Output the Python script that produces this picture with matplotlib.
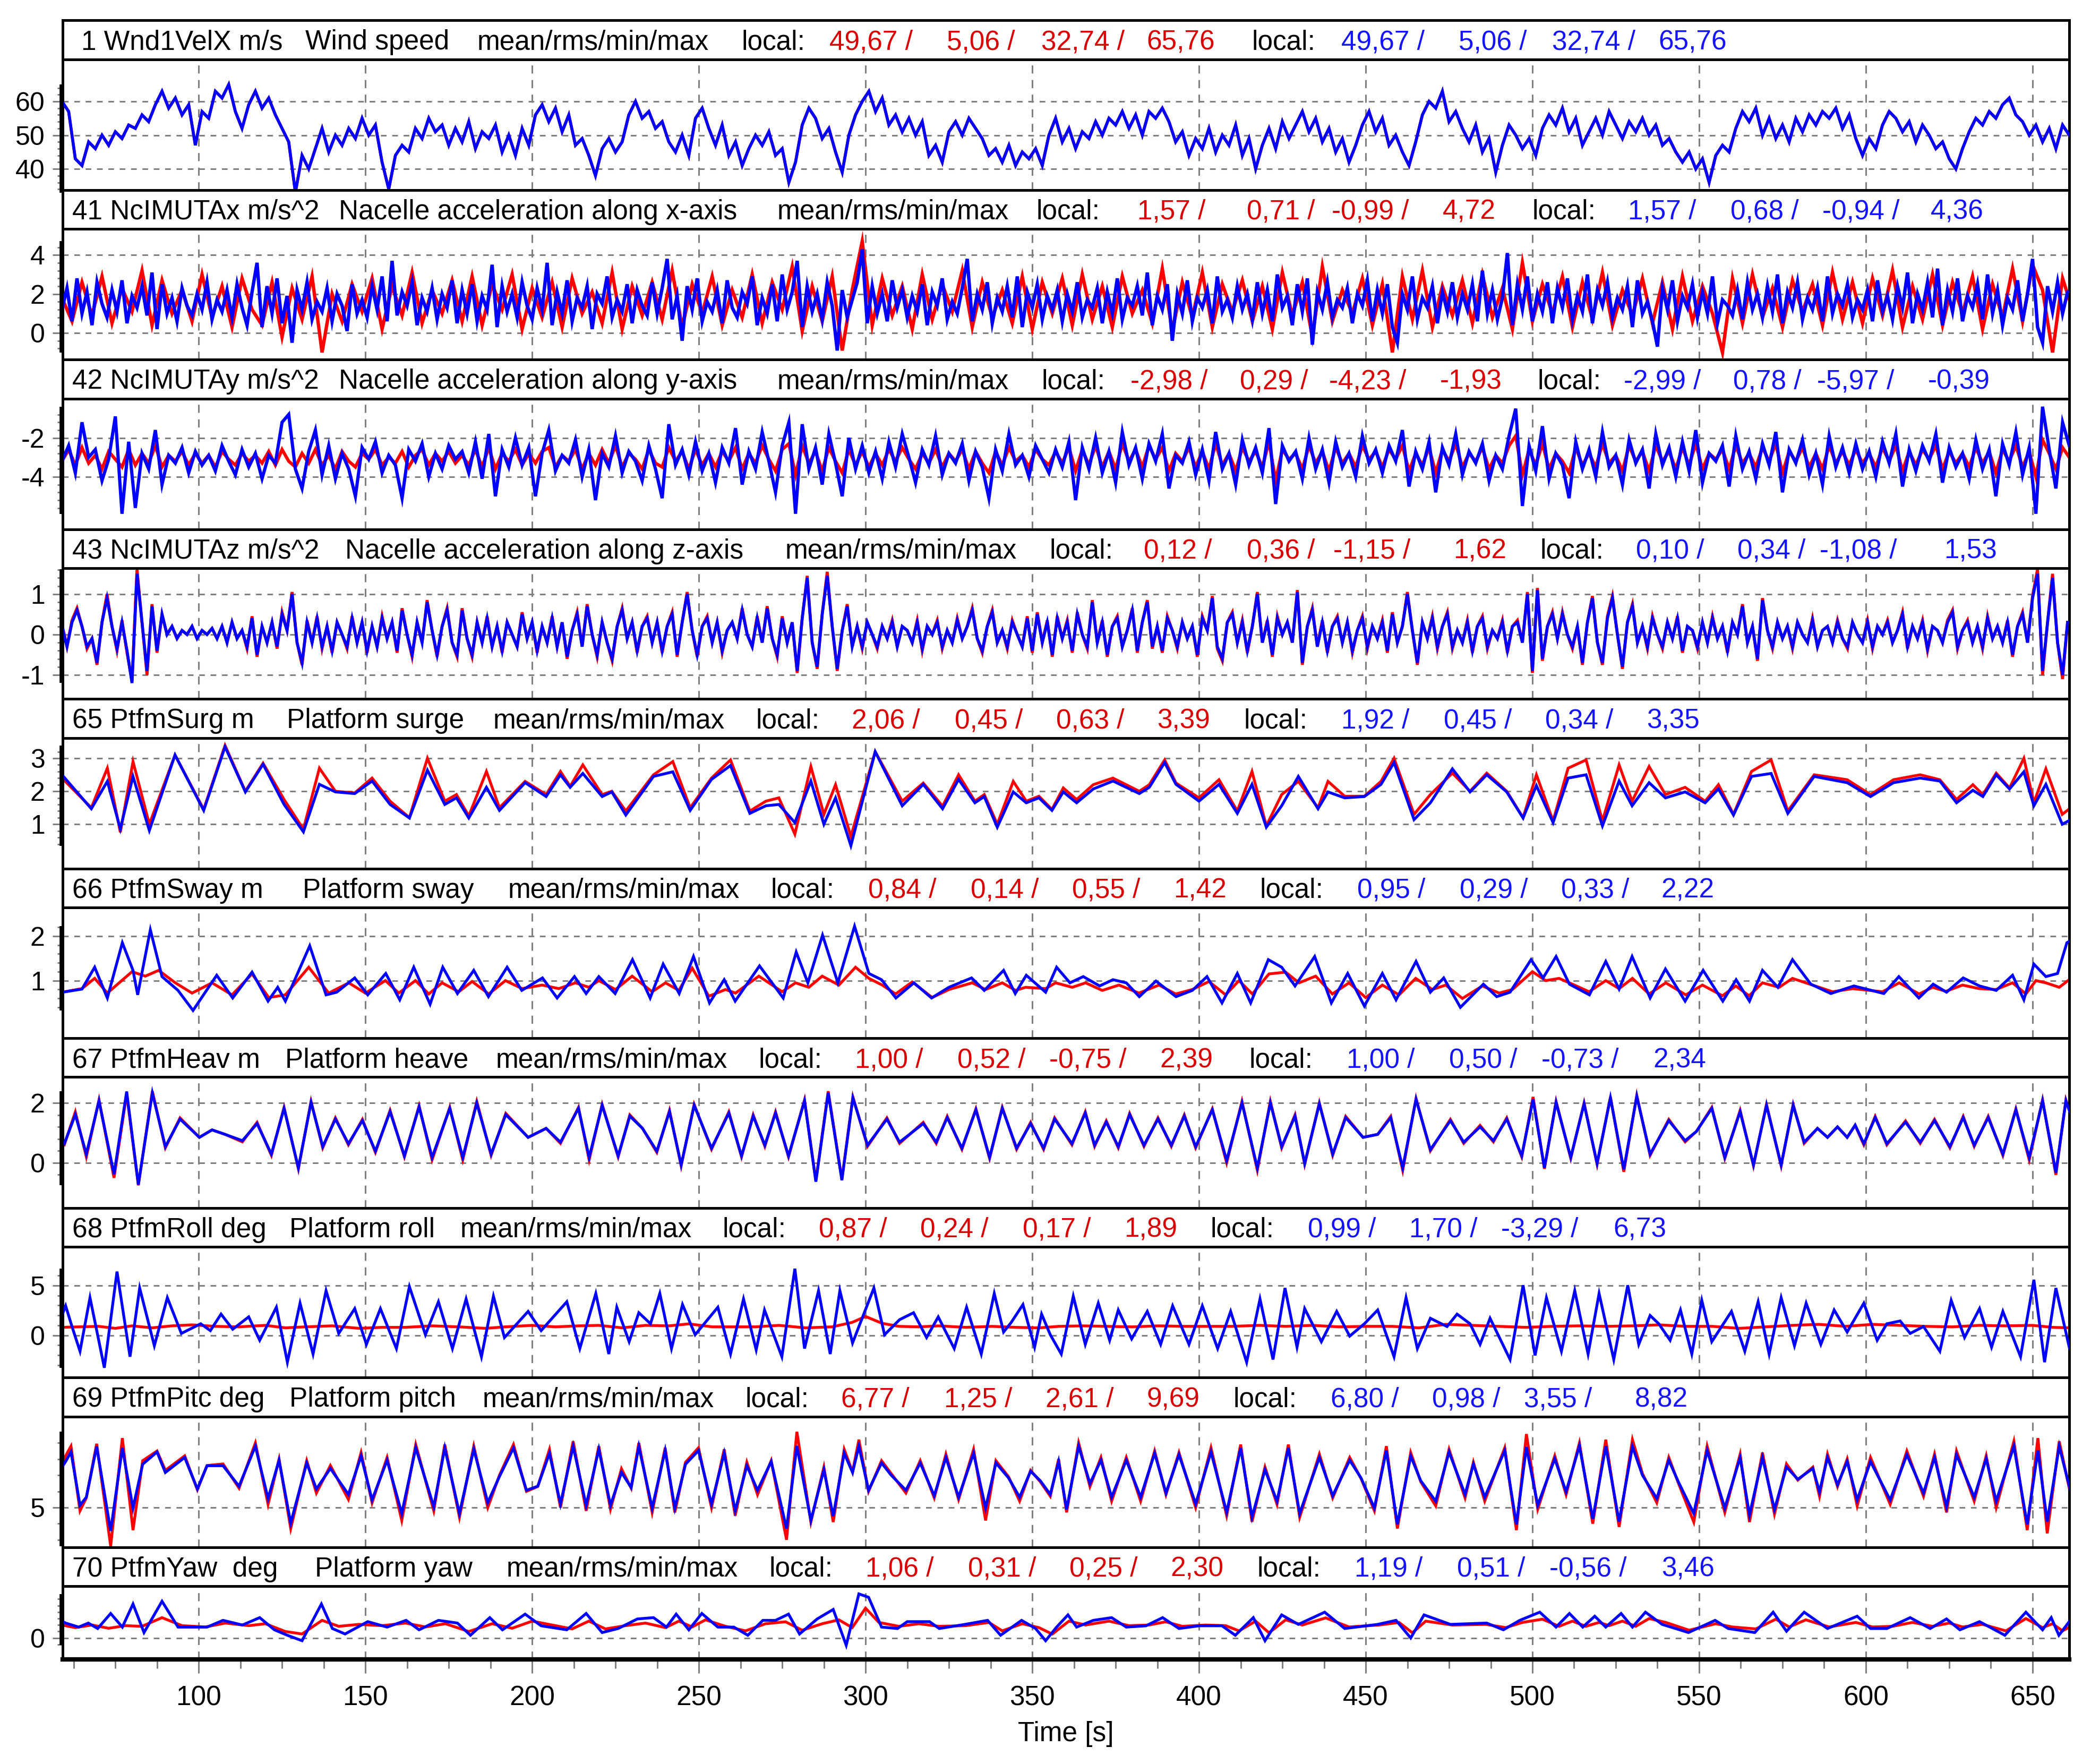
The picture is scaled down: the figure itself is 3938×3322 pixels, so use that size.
import numpy as np
import matplotlib.pyplot as plt
from matplotlib.ticker import FixedLocator
import matplotlib.transforms as mtransforms

plt.rcParams['font.family'] = ['Liberation Sans', 'DejaVu Sans']

RED = '#ff0000'
BLUE = '#0000ff'
TXT_RED = '#d80000'
TXT_BLUE = '#1414ff'
GRID = '#808080'

# ---------------- data ----------------
# uniform series: first sample time and spacing [s]
WIND_T0, WIND_DT = 59.0, 2.0
wind = [
    60, 57, 43, 41, 48, 46, 50, 47, 51, 49,
    53, 52, 56, 54, 59, 63, 58, 61, 56, 59,
    47, 57, 55, 63, 61, 65, 57, 52, 59, 63,
    58, 61, 56, 52, 48, 33, 44, 40, 46, 52,
    45, 50, 47, 52, 49, 55, 50, 53, 42, 34,
    44, 47, 45, 52, 49, 55, 51, 53, 47, 52,
    48, 54, 46, 51, 49, 53, 45, 50, 44, 52,
    47, 56, 59, 54, 58, 51, 56, 47, 49, 44,
    38, 46, 49, 45, 48, 56, 60, 55, 57, 52,
    54, 48, 45, 50, 44, 55, 58, 52, 47, 53,
    44, 48, 41, 46, 50, 47, 51, 44, 46, 36,
    42, 53, 58, 55, 49, 52, 45, 39, 50, 56,
    60, 63, 57, 61, 53, 56, 51, 55, 50, 54,
    44, 47, 42, 51, 54, 50, 55, 52, 49, 44,
    46, 42, 47, 41, 45, 43, 46, 41, 50, 55,
    48, 52, 46, 51, 49, 54, 50, 55, 53, 57,
    52, 56, 50, 57, 55, 58, 54, 48, 51, 44,
    49, 46, 52, 45, 50, 47, 53, 44, 49, 40,
    47, 52, 46, 54, 49, 53, 57, 51, 55, 48,
    52, 45, 49, 42, 47, 53, 57, 51, 55, 47,
    50, 45, 41, 48, 56, 60, 58, 63, 54, 57,
    52, 48, 53, 45, 49, 39, 47, 53, 50, 46,
    49, 44, 52, 56, 53, 58, 51, 55, 47, 51,
    55, 50, 57, 53, 49, 54, 51, 55, 50, 53,
    47, 49, 45, 42, 45, 40, 43, 36, 44, 47,
    45, 52, 57, 54, 58, 50, 55, 49, 53, 48,
    55, 51, 56, 53, 57, 55, 58, 52, 56, 49,
    44, 49, 46, 53, 57, 55, 51, 54, 48, 53,
    50, 46, 48, 43, 40, 46, 51, 55, 53, 57,
    55, 59, 61, 56, 54, 50, 53, 48, 52, 46,
    53, 50,
]

ACCX_T0, ACCX_DT_BLUE, ACCX_DT_RED = 59.0, 1.5, 3.0
accx_blue = [
    1.2, 2.3, 0.6, 2.8, 1.0, 2.1, 0.4, 2.6, 1.5, 0.8, 2.2, 1.1, 2.7, 0.5, 1.9, 1.3, 2.4, 0.9, 3.1, 0.2,
    2.5, 1.0, 1.8, 0.6, 2.3, 1.4, 0.9, 2.0, 1.2, 2.6, 0.7, 1.7, 1.1, 2.2, 0.8, 2.5, 1.3, 0.4, 2.1, 3.6,
    0.3, 2.4, 1.0, 2.8, 0.5, 1.9, -0.5, 2.2, 1.2, 2.6, 0.7, 1.6, 1.1, 2.3, 0.6, 2.0, 1.4, 0.1, 2.5, 1.0,
    1.7, 0.8, 2.4, 1.2, 2.9, 0.6, 3.7, 0.9, 2.1, 1.4, 2.6, 0.4, 1.8, 1.1, 2.3, 0.7, 2.0, 1.3, 2.7, 0.5,
    2.2, 1.0, 2.5, 0.6, 1.9, 1.2, 3.5, 0.3, 2.4, 1.1, 2.0, 0.8, 2.6, 1.4, 0.7, 2.3, 1.2, 3.6, 0.4, 2.1,
    1.0, 2.7, 0.6, 1.8, 1.3, 2.4, 0.2, 2.0, 1.5, 2.9, 0.8, 1.7, 1.1, 2.5, 0.5, 2.2, 1.4, 0.9, 2.6, 1.0,
    2.3, 3.8, 0.7, 1.9, -0.4, 2.4, 1.2, 2.8, 0.6, 1.6, 1.1, 2.2, 0.5, 2.7, 1.3, 0.8, 2.1, 1.5, 2.9, 0.4,
    1.8, 1.0, 2.5, 0.6, 3.0, 1.2, 2.1, 3.7, 0.3, 2.4, 1.1, 2.0, 0.7, 2.6, 1.4, -0.9, 2.2, 0.8, 1.7, 2.6,
    4.3, 0.5, 2.4, 1.0, 2.0, 0.6, 2.7, 1.3, 2.2, 0.8, 1.9, 1.1, 2.5, 0.4, 2.1, 1.4, 2.8, 0.7, 1.6, 1.0,
    2.3, 3.8, 0.6, 2.0, 1.2, 2.6, 0.5, 1.8, 1.1, 2.4, 0.8, 2.9, 0.3, 2.1, 1.3, 2.5, 0.7, 1.9, 1.2, 2.2,
    0.6, 2.0, 1.1, 2.6, 0.8, 1.7, 1.3, 2.3, 0.5, 2.1, 1.0, 2.8, 0.7, 1.8, 1.4, 2.4, 0.9, 3.1, 0.4, 1.9,
    1.2, 2.5, -0.4, 2.0, 1.0, 2.7, 0.6, 1.8, 1.3, 2.2, 0.5, 2.9, 1.1, 1.7, 0.8, 2.4, 1.2, 2.0, 0.7, 2.6,
    1.0, 2.2, 0.6, 3.0, 1.3, 1.9, 0.4, 2.5, 1.1, 2.8, -0.6, 2.1, 1.2, 2.6, 0.8, 1.7, 1.3, 2.3, 0.5, 2.0,
    1.4, 2.7, 0.6, 2.2, 1.0, 2.5, 0.3, -0.5, 2.0, 1.2, 2.9, 0.7, 1.8, 1.3, 2.4, 0.5, 2.1, 1.1, 2.6, 0.8,
    2.0, 1.2, 2.5, 0.6, 3.2, 1.0, 2.2, 0.7, 1.8, 4.1, 0.4, 2.5, 1.2, 2.9, 0.6, 2.0, 1.1, 2.6, 0.5, 2.3,
    1.3, 2.8, 0.7, 1.9, 1.1, 3.0, 0.5, 2.2, 1.4, 2.6, 0.8, 1.8, 1.2, 2.4, 0.3, 2.7, 1.0, 1.6, 0.6, -0.7,
    2.3, 1.2, 2.7, 0.6, 1.9, 1.3, 2.5, 0.8, 2.1, 1.0, 2.9, 0.5, 1.7, 1.4, 0.9, 2.2, 0.7, 2.6, 1.2, 2.0,
    0.8, 2.4, 1.1, 3.0, 0.5, 2.1, 1.3, 2.6, 0.7, 1.8, 1.2, 2.3, 0.6, 2.9, 1.0, 2.0, 1.4, 2.5, 0.8, 1.7,
    1.2, 2.2, 0.6, 2.7, 1.1, 1.9, 0.7, 2.4, 1.3, 3.1, 0.5, 2.0, 1.2, 2.6, 0.8, 3.3, 0.4, 2.2, 1.1, 2.8,
    0.6, 1.9, 1.3, 2.5, 0.7, 3.0, 1.0, 2.2, 0.4, 1.8, 1.2, 2.7, 0.6, 2.0, 3.8, 0.3, -0.5, 2.4, 1.1, 2.6,
    1.0, 2.1,
]
accx_red = [
    1.8, 0.6, 2.6, 0.9, 2.9, 0.5, 2.3, 1.1, 3.2, 0.4, 2.7, 1.0, 2.2, 0.6, 3.0, 0.8, 2.4, 0.3, 2.8, 1.2,
    0.4, 2.6, -0.2, 2.3, 0.7, 2.9, -1.0, 2.0, 0.6, 2.5, 1.1, 2.8, 0.2, 2.4, 0.9, 3.1, 0.5, 2.2, 1.0, 2.7,
    0.6, 2.9, 0.4, 2.5, 1.2, 3.0, 0.2, 2.3, 0.8, 2.6, 0.3, 2.8, 1.0, 2.1, 0.5, 3.1, 0.2, 2.4, 0.9, 2.6,
    0.7, 3.2, 0.3, 2.5, 1.0, 2.9, 0.4, 2.2, 0.8, 3.0, 0.5, 2.6, 1.2, 3.4, 0.1, 2.4, 0.6, 2.9, -0.9, 2.2,
    4.7, 0.4, 2.8, 0.9, 2.4, 0.2, 3.0, 0.7, 2.5, 1.1, 3.2, 0.3, 2.6, 0.8, 2.2, 0.5, 2.9, 0.2, 2.6, 1.0,
    2.8, 0.4, 3.0, 0.7, 2.4, 0.3, 2.9, 1.0, 2.2, 0.5, 3.3, 0.1, 2.6, 0.8, 3.1, 0.3, 2.5, 1.1, 2.7, 0.6,
    2.4, 0.2, 3.1, 0.9, 2.6, -0.2, 3.4, 0.6, 2.2, 1.0, 2.8, 0.4, 2.5, -1.0, 2.9, 0.7, 3.2, 0.3, 2.4, 0.9,
    2.7, 0.5, 3.0, 0.8, 2.3, 0.2, 3.6, 0.6, 2.5, 1.0, 2.9, 0.3, 2.6, 0.7, 3.1, 0.4, 2.2, 0.9, 2.8, 0.5,
    2.6, 0.2, 2.9, 0.6, 2.4, 1.0, -1.0, 2.8, 0.5, 3.0, 0.8, 2.3, 0.3, 2.7, 1.1, 2.5, 0.4, 3.1, 0.7, 2.6,
    0.5, 2.8, 0.9, 3.2, 0.3, 2.4, 0.7, 3.0, 0.4, 2.6, 1.0, 2.9, 0.2, 2.5, 0.8, 3.3, 0.6, 3.5, 2.2, -1.0,
    2.8, 1.2,
]

ACCY_T0, ACCY_DT = 59.0, 2.0
accy_blue = [
    -3.2, -2.4, -3.8, -1.2, -3.0, -2.6, -4.2, -3.1, -0.9, -5.9,
    -2.2, -5.6, -2.8, -3.6, -1.6, -4.4, -2.9, -3.3, -2.5, -3.8,
    -2.7, -3.4, -2.9, -3.7, -2.4, -3.2, -3.9, -2.6, -3.5, -2.8,
    -4.1, -2.9, -3.3, -1.2, -0.8, -3.6, -4.6, -2.7, -1.6, -3.9,
    -2.4, -4.1, -2.8, -3.6, -5.0, -2.5, -3.1, -2.2, -3.8, -2.9,
    -3.4, -5.1, -2.6, -3.2, -2.3, -4.0, -2.8, -3.6, -2.4, -3.1,
    -2.7, -3.8, -2.2, -4.1, -1.8, -5.0, -2.6, -3.5, -2.0, -3.4,
    -2.5, -5.0, -2.8, -1.6, -3.7, -2.9, -3.3, -2.1, -4.0, -2.6,
    -5.2, -2.8, -3.5, -1.9, -3.8, -2.7, -3.2, -4.2, -2.4, -3.6,
    -5.1, -1.3, -3.4, -2.6, -3.9, -2.2, -3.7, -2.8, -4.3, -2.5,
    -3.3, -1.5, -4.4, -2.7, -3.6, -1.7, -3.2, -4.8, -2.4, -1.2,
    -5.9, -1.3, -3.6, -2.5, -4.4, -1.8, -3.3, -5.0, -2.0, -3.6,
    -2.4, -3.8, -2.7, -4.1, -2.2, -3.5, -1.8, -3.0, -4.3, -2.6,
    -3.4, -1.9, -3.9, -2.8, -3.3, -2.3, -4.2, -2.7, -3.5, -5.1,
    -2.6, -3.7, -1.8, -3.4, -2.9, -4.0, -2.4, -3.1, -3.8, -2.6,
    -3.5, -2.2, -5.2, -2.5, -3.6, -2.0, -3.8, -2.7, -4.3, -1.7,
    -3.4, -2.5, -4.1, -2.3, -3.2, -1.8, -4.6, -2.9, -3.3, -2.2,
    -3.9, -2.6, -4.2, -1.7, -3.6, -2.8, -4.4, -2.1, -3.4, -2.5,
    -3.8, -1.5, -5.4, -2.4, -3.2, -2.7, -4.1, -2.0, -3.6, -2.6,
    -4.3, -2.2, -3.5, -2.8, -4.0, -1.9, -3.3, -2.6, -3.8, -2.4,
    -3.2, -1.6, -4.5, -2.7, -3.6, -2.2, -4.8, -2.5, -3.4, -1.8,
    -3.9, -2.7, -3.3, -2.3, -4.2, -2.9, -3.6, -1.9, -0.5, -5.5,
    -2.4, -3.7, -1.4, -4.1, -2.8, -3.4, -5.1, -2.2, -3.6, -2.6,
    -4.0, -1.7, -3.5, -2.9, -4.4, -2.1, -3.3, -2.6, -4.6, -1.8,
    -3.4, -2.5, -4.0, -2.2, -3.7, -1.6, -4.3, -2.8, -3.2, -2.4,
    -4.5, -1.9, -3.6, -2.7, -4.1, -2.3, -3.4, -1.7, -4.8, -2.6,
    -3.3, -2.1, -3.9, -2.8, -4.4, -1.9, -3.5, -2.5, -3.8, -2.3,
    -3.6, -2.7, -4.0, -2.2, -3.3, -1.8, -4.5, -2.6, -3.7, -2.4,
    -3.2, -1.8, -4.3, -2.5, -3.5, -2.8, -4.1, -2.1, -3.6, -2.6,
    -5.0, -2.3, -3.4, -1.7, -3.9, -2.5, -5.9, -0.4, -2.6, -4.6,
    -1.2, -2.4,
]
accy_red = [
    -3.2, -2.6, -3.4, -2.5, -3.3, -2.9, -3.6, -2.7, -3.1, -3.5,
    -2.6, -3.4, -2.8, -3.3, -2.4, -3.5, -2.9, -3.2, -2.7, -3.4,
    -2.8, -3.3, -2.9, -3.5, -2.7, -3.1, -3.4, -2.8, -3.2, -2.9,
    -3.3, -2.7, -3.4, -2.6, -3.2, -3.5, -2.8, -3.3, -2.6, -3.4,
    -2.9, -3.6, -2.7, -3.2, -3.5, -2.8, -3.1, -2.6, -3.4, -3.0,
    -3.3, -2.7, -3.5, -2.9, -2.6, -3.4, -2.8, -3.2, -2.7, -3.3,
    -2.9, -3.4, -2.6, -3.5, -2.5, -3.6, -2.8, -3.2, -2.6, -3.4,
    -2.8, -3.3, -2.7, -2.5, -3.5, -2.9, -3.2, -2.6, -3.6, -2.8,
    -3.4, -2.6, -3.3, -2.4, -3.5, -2.8, -3.1, -3.6, -2.6, -3.3,
    -3.5, -2.5, -3.2, -2.7, -3.6, -2.6, -3.4, -2.8, -3.5, -2.7,
    -3.2, -2.5, -3.6, -2.8, -3.3, -2.4, -3.1, -3.7, -2.6, -2.3,
    -3.9, -2.4, -3.3, -2.7, -3.7, -2.5, -3.2, -3.8, -2.6, -3.4,
    -2.7, -3.5, -2.8, -3.4, -2.6, -3.2, -2.5, -3.1, -3.6, -2.8,
    -3.3, -2.6, -3.5, -2.8, -3.2, -2.6, -3.6, -2.7, -3.3, -3.8,
    -2.7, -3.4, -2.5, -3.2, -2.9, -3.5, -2.6, -3.1, -3.4, -2.7,
    -3.3, -2.5, -3.7, -2.6, -3.4, -2.4, -3.5, -2.7, -3.6, -2.3,
    -3.2, -2.6, -3.5, -2.4, -3.1, -2.5, -3.7, -2.8, -3.2, -2.5,
    -3.5, -2.7, -3.6, -2.3, -3.4, -2.8, -3.7, -2.5, -3.2, -2.7,
    -3.5, -2.2, -4.2, -2.6, -3.1, -2.8, -3.6, -2.4, -3.3, -2.7,
    -3.7, -2.5, -3.3, -2.8, -3.5, -2.4, -3.1, -2.7, -3.5, -2.6,
    -3.1, -2.4, -3.7, -2.8, -3.4, -2.5, -3.8, -2.6, -3.2, -2.3,
    -3.5, -2.8, -3.2, -2.5, -3.6, -2.9, -3.3, -2.4, -1.9, -3.9,
    -2.6, -3.4, -2.3, -3.6, -2.8, -3.2, -3.8, -2.5, -3.4, -2.8,
    -3.5, -2.3, -3.3, -2.9, -3.7, -2.4, -3.2, -2.7, -3.7, -2.4,
    -3.2, -2.7, -3.6, -2.5, -3.4, -2.3, -3.6, -2.8, -3.1, -2.6,
    -3.6, -2.4, -3.3, -2.8, -3.5, -2.5, -3.2, -2.3, -3.8, -2.7,
    -3.2, -2.5, -3.5, -2.8, -3.6, -2.4, -3.3, -2.7, -3.4, -2.6,
    -3.3, -2.8, -3.5, -2.5, -3.2, -2.4, -3.7, -2.7, -3.4, -2.6,
    -3.1, -2.4, -3.6, -2.7, -3.3, -2.8, -3.5, -2.5, -3.3, -2.7,
    -3.8, -2.6, -3.2, -2.4, -3.5, -2.7, -4.0, -2.1, -2.8, -3.6,
    -2.5, -3.0,
]

ACCZ_T0, ACCZ_DT = 59.0, 1.5
accz_blue = [
    0.2, -0.3, 0.3, 0.6, 0.2, -0.3, -0.1, -0.7, 0.3, 0.9, 0.2, -0.35, 0.3, -0.4, -1.2, 1.5, 0.3, -0.9, 0.7, -0.4,
    0.5, 0.0, 0.2, -0.1, 0.1, 0.0, 0.2, -0.1, 0.1, 0.0, 0.15, -0.1, 0.2, -0.2, 0.3, -0.1, 0.1, -0.3, 0.4, -0.5,
    0.2, -0.2, 0.3, -0.3, 0.5, 0.1, 1.0, -0.2, -0.7, 0.3, -0.2, 0.4, -0.3, 0.2, -0.4, 0.3, 0.0, -0.3, 0.4, -0.2,
    0.3, -0.4, 0.2, -0.3, 0.4, -0.1, 0.3, -0.4, 0.6, 0.0, -0.5, 0.3, -0.2, 0.8, 0.1, -0.5, 0.2, 0.6, -0.2, -0.5,
    0.6, -0.1, -0.5, 0.3, -0.2, 0.4, -0.3, 0.2, -0.4, 0.3, 0.0, -0.3, 0.5, -0.1, 0.3, -0.4, 0.2, -0.2, 0.4, -0.3,
    0.3, -0.55, 0.1, 0.5, -0.3, 0.7, 0.0, -0.5, 0.3, -0.2, -0.6, 0.2, 0.6, -0.1, 0.3, -0.4, 0.2, 0.4, -0.2, 0.3,
    -0.4, 0.2, 0.5, -0.5, 0.3, 1.0, 0.1, -0.5, 0.2, 0.4, -0.2, 0.3, -0.4, 0.1, 0.3, -0.1, 0.6, 0.0, -0.3, 0.4,
    -0.2, 0.65, -0.1, -0.5, 0.4, -0.2, 0.3, -0.9, 0.4, 1.4, -0.2, -0.8, 0.5, 1.45, 0.2, -0.85, 0.1, 0.7, -0.3, 0.2,
    -0.3, 0.3, 0.0, -0.3, 0.2, -0.1, 0.3, -0.3, 0.2, 0.1, -0.2, 0.3, -0.35, 0.2, 0.0, 0.3, -0.3, 0.1, -0.2, 0.35,
    -0.1, 0.2, 0.6, -0.1, -0.4, 0.2, 0.55, -0.2, 0.1, -0.3, 0.3, 0.0, -0.3, 0.4, -0.4, 0.5, -0.2, 0.3, -0.5, 0.4,
    -0.1, 0.3, -0.4, 0.5, 0.0, -0.3, 0.8, -0.2, 0.3, -0.5, 0.2, 0.4, -0.3, 0.1, 0.6, -0.4, 0.3, 0.8, -0.3, 0.2,
    -0.4, 0.4, 0.1, -0.3, 0.3, -0.1, 0.2, -0.5, 0.4, 0.1, 0.9, -0.3, -0.6, 0.3, 0.5, -0.2, 0.3, -0.4, 0.2, 1.0,
    -0.2, 0.3, -0.5, 0.4, 0.0, 0.3, -0.2, 1.05, -0.7, 0.2, 0.6, -0.3, 0.3, -0.4, 0.2, 0.4, -0.2, 0.3, -0.4, 0.1,
    0.4, -0.3, 0.2, -0.1, 0.3, -0.4, 0.5, -0.2, 0.2, 1.0, 0.1, -0.7, 0.3, -0.1, 0.4, -0.3, 0.2, 0.5, -0.3, 0.1,
    -0.2, 0.3, -0.4, 0.2, 0.4, -0.3, 0.1, -0.1, 0.3, -0.4, 0.2, 0.3, -0.2, 1.0, -0.9, 1.1, -0.6, 0.2, 0.5, -0.1,
    0.5, 0.0, -0.3, 0.2, -0.7, 0.3, 0.9, -0.2, -0.7, 0.4, 0.9, 0.0, -0.8, 0.3, 0.7, -0.2, 0.2, -0.3, 0.4, 0.0,
    -0.3, 0.3, -0.1, 0.4, -0.4, 0.2, 0.1, -0.3, 0.3, -0.2, 0.4, -0.1, 0.2, -0.4, 0.3, 0.0, 0.7, -0.2, 0.2, -0.6,
    0.85, 0.1, -0.3, 0.3, -0.1, 0.2, -0.3, 0.3, 0.0, -0.2, 0.35, -0.3, 0.1, 0.2, -0.2, 0.3, -0.1, -0.3, 0.3, 0.0,
    -0.2, 0.3, -0.3, 0.2, 0.0, 0.3, -0.2, 0.1, 0.5, -0.3, 0.2, -0.1, 0.3, -0.35, 0.2, 0.1, -0.2, 0.3, 0.55, -0.3,
    0.1, 0.3, -0.2, 0.2, -0.3, 0.4, -0.1, 0.2, -0.2, 0.3, -0.5, 0.2, 0.5, -0.2, 0.9, 1.5, -0.9, 0.3, 1.4, -0.2,
    -1.0, 0.3,
]
accz_red = [
    0.25, -0.3, 0.35, 0.65, 0.2, -0.35, -0.1, -0.75, 0.3, 1.0, 0.2, -0.4, 0.35, -0.45, -1.15, 1.62, 0.3, -1.0, 0.75, -0.45,
    0.5, 0.0, 0.2, -0.1, 0.1, 0.0, 0.2, -0.1, 0.1, 0.0, 0.15, -0.1, 0.2, -0.2, 0.3, -0.1, 0.1, -0.35, 0.45, -0.55,
    0.2, -0.2, 0.3, -0.35, 0.55, 0.1, 1.05, -0.2, -0.75, 0.35, -0.2, 0.45, -0.35, 0.2, -0.45, 0.3, 0.0, -0.35, 0.45, -0.2,
    0.3, -0.45, 0.2, -0.3, 0.45, -0.1, 0.3, -0.45, 0.65, 0.0, -0.55, 0.3, -0.2, 0.85, 0.1, -0.55, 0.2, 0.65, -0.2, -0.55,
    0.65, -0.1, -0.55, 0.3, -0.2, 0.45, -0.3, 0.2, -0.45, 0.3, 0.0, -0.3, 0.55, -0.1, 0.3, -0.45, 0.2, -0.2, 0.45, -0.3,
    0.3, -0.6, 0.1, 0.55, -0.3, 0.75, 0.0, -0.55, 0.3, -0.2, -0.65, 0.2, 0.65, -0.1, 0.3, -0.45, 0.2, 0.45, -0.2, 0.3,
    -0.45, 0.2, 0.55, -0.55, 0.3, 1.05, 0.1, -0.55, 0.2, 0.45, -0.2, 0.3, -0.45, 0.1, 0.3, -0.1, 0.65, 0.0, -0.3, 0.45,
    -0.2, 0.7, -0.1, -0.55, 0.45, -0.2, 0.3, -0.95, 0.4, 1.45, -0.2, -0.85, 0.5, 1.55, 0.2, -0.9, 0.1, 0.75, -0.3, 0.2,
    -0.35, 0.3, 0.0, -0.35, 0.2, -0.1, 0.35, -0.3, 0.2, 0.1, -0.2, 0.35, -0.4, 0.2, 0.0, 0.35, -0.35, 0.1, -0.2, 0.4,
    -0.1, 0.2, 0.65, -0.1, -0.45, 0.2, 0.6, -0.2, 0.1, -0.35, 0.35, 0.0, -0.3, 0.45, -0.45, 0.55, -0.2, 0.35, -0.55, 0.45,
    -0.1, 0.35, -0.45, 0.55, 0.0, -0.35, 0.85, -0.2, 0.35, -0.55, 0.2, 0.45, -0.3, 0.1, 0.65, -0.45, 0.3, 0.85, -0.35, 0.2,
    -0.45, 0.45, 0.1, -0.35, 0.3, -0.1, 0.2, -0.55, 0.45, 0.1, 0.95, -0.35, -0.65, 0.3, 0.55, -0.2, 0.35, -0.45, 0.2, 1.05,
    -0.2, 0.35, -0.55, 0.45, 0.0, 0.3, -0.2, 1.1, -0.75, 0.2, 0.65, -0.3, 0.35, -0.45, 0.2, 0.45, -0.2, 0.3, -0.45, 0.1,
    0.45, -0.35, 0.2, -0.1, 0.35, -0.45, 0.55, -0.2, 0.2, 1.05, 0.1, -0.75, 0.3, -0.1, 0.45, -0.35, 0.2, 0.55, -0.35, 0.1,
    -0.2, 0.35, -0.45, 0.2, 0.45, -0.35, 0.1, -0.1, 0.35, -0.45, 0.2, 0.35, -0.2, 1.05, -0.95, 1.15, -0.65, 0.2, 0.55, -0.1,
    0.55, 0.0, -0.35, 0.2, -0.75, 0.3, 0.95, -0.2, -0.75, 0.45, 0.95, 0.0, -0.85, 0.3, 0.75, -0.2, 0.2, -0.35, 0.45, 0.0,
    -0.35, 0.3, -0.1, 0.45, -0.45, 0.2, 0.1, -0.35, 0.3, -0.2, 0.45, -0.1, 0.2, -0.45, 0.3, 0.0, 0.75, -0.2, 0.2, -0.65,
    0.9, 0.1, -0.35, 0.3, -0.1, 0.2, -0.35, 0.3, 0.0, -0.2, 0.4, -0.3, 0.1, 0.2, -0.2, 0.35, -0.1, -0.35, 0.3, 0.0,
    -0.2, 0.35, -0.35, 0.2, 0.0, 0.35, -0.2, 0.1, 0.55, -0.35, 0.2, -0.1, 0.35, -0.4, 0.2, 0.1, -0.2, 0.35, 0.6, -0.35,
    0.1, 0.35, -0.2, 0.2, -0.35, 0.45, -0.1, 0.2, -0.2, 0.35, -0.55, 0.2, 0.55, -0.2, 0.95, 1.62, -1.0, 0.3, 1.5, -0.2,
    -1.1, 0.3,
]

# turning points: (time, blue, red)
surge = [
    (59, 2.5, 2.4), (67.8, 1.47, 1.5), (72.6, 2.3, 2.7), (76.5, 0.86, 0.76), (80.3, 2.45, 2.9),
    (85.2, 0.81, 1.0), (92.9, 3.1, 3.1), (101.5, 1.42, 1.45), (107.9, 3.35, 3.39), (114, 1.98, 2.0),
    (119.3, 2.82, 2.85), (125.6, 1.6, 1.75), (131.4, 0.77, 0.85), (136.2, 2.21, 2.7), (141, 1.98, 2.0),
    (146.8, 1.93, 1.95), (152, 2.31, 2.4), (157.4, 1.6, 1.7), (163.2, 1.19, 1.2), (168.6, 2.64, 3.0),
    (173.8, 1.6, 1.7), (177.3, 1.8, 1.9), (181, 1.19, 1.25), (186.3, 2.12, 2.6), (190.2, 1.42, 1.5),
    (197.9, 2.26, 2.3), (204.2, 1.84, 1.9), (208.5, 2.5, 2.6), (211.4, 2.12, 2.15), (215.2, 2.54, 2.8),
    (221, 1.84, 1.9), (223.9, 1.98, 2.0), (228.1, 1.28, 1.4), (236.4, 2.45, 2.5), (242.2, 2.59, 2.9),
    (247.4, 1.42, 1.5), (253.8, 2.36, 2.4), (259.5, 2.78, 2.95), (265.3, 1.33, 1.4), (270.1, 1.56, 1.7),
    (274, 1.6, 1.8), (278.8, 1.05, 0.7), (283.6, 2.31, 2.75), (287.5, 1.0, 1.3), (291, 1.8, 2.2),
    (295.6, 0.35, 0.63), (302.9, 3.2, 3.2), (311, 1.56, 1.7), (317.3, 2.21, 2.25), (323.1, 1.47, 1.55),
    (327.9, 2.36, 2.5), (332.8, 1.65, 1.7), (335.6, 1.84, 1.9), (339.5, 0.91, 1.0), (344.3, 1.98, 2.3),
    (348.2, 1.65, 1.7), (352, 1.8, 1.85), (355.9, 1.42, 1.45), (359.3, 1.98, 2.1), (363.3, 1.65, 1.75),
    (368.3, 2.07, 2.2), (374.2, 2.31, 2.4), (382.1, 1.93, 2.0), (385.1, 2.12, 2.2), (389.7, 2.87, 2.95),
    (393.1, 2.21, 2.25), (400, 1.7, 1.8), (406, 2.21, 2.35), (411.5, 1.33, 1.4), (415.9, 2.21, 2.6),
    (420.2, 0.91, 0.95), (424.8, 1.56, 1.9), (429.8, 2.45, 2.3), (435.7, 1.47, 1.5), (438.7, 1.98, 2.3),
    (443.7, 1.8, 1.85), (449.6, 1.84, 1.85), (454.6, 2.21, 2.3), (458.5, 2.87, 3.0), (464.5, 1.14, 1.3),
    (469.4, 1.65, 1.9), (476, 2.68, 2.55), (481.3, 1.98, 2.0), (486.3, 2.5, 2.55), (492.3, 1.98, 2.0),
    (497.2, 1.19, 1.2), (501.2, 2.17, 2.5), (506.2, 1.05, 1.1), (510.7, 2.4, 2.7), (516.1, 2.5, 2.95),
    (521, 0.95, 1.1), (526, 2.31, 2.8), (529.9, 1.56, 1.7), (535, 2.26, 2.75), (539.9, 1.8, 1.9),
    (545.8, 1.98, 2.12), (551.8, 1.65, 1.7), (555.8, 2.07, 2.2), (560.3, 1.28, 1.3), (565.7, 2.45, 2.6),
    (571.6, 2.54, 2.95), (576.6, 1.33, 1.4), (584.5, 2.45, 2.5), (594.4, 2.26, 2.35), (601.4, 1.84, 1.9),
    (608.3, 2.26, 2.35), (616.3, 2.4, 2.5), (622.2, 2.31, 2.35), (627.2, 1.65, 1.75), (632.1, 2.03, 2.2),
    (635.1, 1.84, 1.9), (639.1, 2.5, 2.55), (643.1, 2.07, 2.1), (647.4, 2.59, 3.0), (650.4, 1.56, 1.65),
    (654, 2.21, 2.68), (658.9, 1.0, 1.3), (661.5, 1.14, 1.5),
]

sway_blue = [
    (59.2, 0.74), (65, 0.81), (68.8, 1.3), (72.6, 0.61), (77.1, 1.85), (80.3, 1.23), (81.7, 0.68),
    (85.5, 2.14), (89, 1.09), (93.8, 0.78), (98.3, 0.33), (105.4, 1.12), (110.2, 0.61), (116, 1.19),
    (120.8, 0.54), (123.7, 0.85), (126, 0.54), (133.3, 1.78), (138.2, 0.68), (141.4, 0.74), (146.8, 1.06),
    (150.7, 0.68), (156.1, 1.16), (160.3, 0.57), (164.5, 1.3), (169.4, 0.47), (173.2, 1.3), (177.6, 0.71),
    (182.5, 1.23), (186.9, 0.64), (192.5, 1.3), (196.9, 0.78), (203.1, 1.06), (207.5, 0.61), (212.7, 1.09),
    (216.2, 0.71), (220, 1.09), (224.9, 0.71), (230.1, 1.47), (235.4, 0.61), (239.3, 1.37), (244.1, 0.71),
    (248.4, 1.54), (253.2, 0.5), (257.6, 1.02), (260.9, 0.54), (268.2, 1.33), (275.3, 0.61), (279.2, 1.64),
    (282.7, 0.95), (287.1, 2.02), (291.7, 0.95), (296.7, 2.22), (301, 1.16), (304.8, 1.02), (309.1, 0.61),
    (314.5, 0.95), (319.8, 0.61), (325, 0.85), (331.8, 1.06), (335.6, 0.78), (341.4, 1.23), (344.9, 0.71),
    (348.2, 1.12), (354, 0.74), (357.3, 1.3), (361.3, 0.95), (365.3, 1.09), (370.2, 0.88), (374.2, 1.02),
    (378.2, 0.95), (382.1, 0.64), (387.1, 0.99), (393.1, 0.64), (398, 0.78), (402.4, 1.09), (406.9, 0.5),
    (411.5, 1.16), (415.5, 0.5), (420.8, 1.47), (424.8, 1.3), (428.8, 0.88), (434.7, 1.54), (439.7, 0.5),
    (444.6, 1.16), (449.6, 0.43), (455, 1.16), (459.1, 0.57), (465.1, 1.43), (469.4, 0.74), (473.4, 1.06),
    (478.4, 0.4), (485.3, 0.92), (489.3, 0.64), (493.3, 0.74), (499.6, 1.47), (503.2, 1.06), (507.1, 1.54),
    (511.1, 0.92), (517.1, 0.68), (522, 1.43), (526, 0.81), (529.9, 1.54), (535.3, 0.61), (539.9, 1.26),
    (545.8, 0.54), (551.2, 1.23), (557.1, 0.54), (561.1, 1.02), (565.1, 0.54), (569, 1.23), (573.6, 0.85),
    (578, 1.47), (583.5, 0.92), (589.5, 0.71), (596.4, 0.88), (605.4, 0.71), (609.9, 1.09), (615.9, 0.61),
    (620.2, 0.92), (624.2, 0.74), (629.2, 1.06), (634.1, 0.88), (639.1, 0.78), (644, 1.12), (647.4, 0.57),
    (650.4, 1.37), (654, 1.09), (657.5, 1.16), (660.3, 1.85), (661.5, 1.9),
]
sway_red = [
    (59, 0.74), (65, 0.82), (68.8, 1.05), (72.6, 0.72), (80, 1.2), (84, 1.1), (88, 1.23), (93, 0.95),
    (98, 0.72), (104, 0.95), (110, 0.68), (116, 1.15), (121, 0.62), (126, 0.68), (133, 1.3), (139, 0.72),
    (145, 0.95), (150, 0.72), (156, 1.0), (160, 0.72), (165, 1.0), (169, 0.7), (173, 0.95), (178, 0.75),
    (182, 0.98), (187, 0.7), (192, 1.0), (197, 0.82), (203, 0.9), (208, 0.82), (213, 0.95), (217, 0.85),
    (220, 1.0), (225, 0.8), (230, 1.1), (236, 0.75), (240, 0.95), (244, 0.78), (248, 1.28), (253, 0.65),
    (258, 0.8), (261, 0.72), (268, 1.1), (275, 0.75), (279, 0.95), (283, 0.85), (287, 1.1), (292, 0.9),
    (297, 1.3), (301, 1.05), (305, 0.9), (309, 0.7), (314, 0.97), (320, 0.62), (325, 0.8), (332, 0.95),
    (336, 0.8), (341, 0.95), (345, 0.78), (348, 0.85), (354, 0.82), (357, 0.95), (362, 0.85), (366, 0.95),
    (371, 0.78), (376, 0.9), (382, 0.72), (388, 0.9), (393, 0.7), (398, 0.8), (403, 0.98), (408, 0.68),
    (412, 1.0), (416, 0.7), (421, 1.15), (426, 1.19), (430, 0.95), (435, 1.1), (440, 0.7), (445, 0.95),
    (450, 0.62), (455, 0.9), (460, 0.68), (465, 1.05), (470, 0.8), (474, 0.9), (479, 0.6), (485, 0.88),
    (490, 0.72), (494, 0.8), (500, 1.2), (504, 1.0), (508, 1.05), (512, 0.92), (517, 0.75), (522, 1.0),
    (526, 0.82), (530, 1.05), (535, 0.7), (540, 0.95), (546, 0.68), (551, 0.9), (557, 0.66), (561, 0.88),
    (565, 0.66), (569, 0.95), (574, 0.85), (578, 1.05), (584, 0.9), (590, 0.75), (596, 0.82), (605, 0.75),
    (610, 0.95), (616, 0.7), (620, 0.85), (624, 0.76), (629, 0.9), (634, 0.82), (639, 0.8), (644, 0.95),
    (648, 0.7), (651, 1.0), (654, 0.95), (658, 0.85), (661.5, 1.05),
]

heave = [
    (59.7, 0.64, 0.6), (63, 1.61, 1.7), (66.3, 0.29, 0.2), (70.1, 2.07, 2.1), (74.6, -0.38, -0.5),
    (78.4, 2.38, 2.3), (81.9, -0.73, -0.75), (86.1, 2.33, 2.39), (90, 0.54, 0.5), (94.4, 1.46, 1.5),
    (100.2, 0.85, 0.85), (104, 1.1, 1.1), (107.9, 0.95, 0.95), (113.1, 0.74, 0.7), (117.5, 1.31, 1.35),
    (121.8, 0.29, 0.25), (125.6, 1.82, 1.85), (129.9, -0.17, -0.2), (133.7, 2.02, 2.05), (137.2, 0.54, 0.5),
    (141, 1.46, 1.5), (144.9, 0.64, 0.6), (149.1, 1.41, 1.45), (153, 0.39, 0.35), (157.4, 1.71, 1.75),
    (161.7, 0.23, 0.2), (166.1, 1.87, 1.9), (170, 0.18, 0.1), (175.3, 1.82, 1.85), (179.2, 0.18, 0.1),
    (183.4, 1.99, 2.05), (187.7, 0.29, 0.25), (192.1, 1.61, 1.65), (198.8, 0.85, 0.85), (204.2, 1.15, 1.15),
    (208.5, 0.69, 0.65), (213.9, 1.82, 1.85), (217.1, 0.18, 0.1), (221, 1.92, 1.95), (225.8, 0.23, 0.2),
    (229.3, 1.56, 1.6), (233.1, 1.15, 1.15), (237.4, 0.39, 0.35), (241.2, 1.71, 1.75), (244.7, -0.07, -0.1),
    (248.6, 1.92, 1.95), (253.8, 0.49, 0.45), (259, 1.66, 1.7), (262.8, 0.23, 0.2), (266.3, 1.56, 1.6),
    (269.8, 0.59, 0.55), (273, 1.66, 1.7), (276.9, 0.23, 0.2), (281.7, 2.07, 2.1), (285.1, -0.63, -0.6),
    (288.8, 2.34, 2.39), (292.9, -0.58, -0.55), (296.2, 2.17, 2.2), (300.6, 0.59, 0.55), (306.4, 1.46, 1.5),
    (310.2, 0.69, 0.65), (317.3, 1.31, 1.35), (321.2, 0.69, 0.65), (324.5, 1.51, 1.55), (328.9, 0.49, 0.45),
    (333.1, 1.77, 1.8), (337.2, 0.18, 0.15), (341, 1.82, 1.85), (345.3, 0.49, 0.45), (349.5, 1.31, 1.35),
    (353.4, 0.49, 0.45), (356.7, 1.46, 1.5), (361.9, 0.64, 0.6), (365.9, 1.66, 1.7), (368.7, 0.59, 0.55),
    (372.2, 1.36, 1.4), (375.8, 0.54, 0.5), (379.2, 1.61, 1.65), (383.5, 0.59, 0.55), (387.7, 1.46, 1.5),
    (391.7, 0.59, 0.55), (395.6, 1.56, 1.6), (399, 0.54, 0.5), (404, 1.77, 1.8), (408.3, 0.08, 0.0),
    (412.9, 2.0, 2.05), (417.5, -0.17, -0.25), (421.4, 2.0, 2.05), (424.8, 0.54, 0.5), (428.8, 1.56, 1.6),
    (431.7, -0.02, -0.05), (436.1, 1.97, 2.0), (440.1, 0.29, 0.25), (444, 1.51, 1.55), (449.2, 0.85, 0.85),
    (453.6, 0.95, 0.95), (457.5, 1.51, 1.55), (461.1, -0.17, -0.25), (465.1, 2.12, 2.15), (469.4, 0.44, 0.4),
    (475.4, 1.41, 1.45), (479.4, 0.69, 0.65), (484.3, 1.2, 1.25), (488.3, 0.74, 0.7), (492.3, 1.46, 1.5),
    (496.8, 0.23, 0.2), (500.2, 2.12, 2.2), (503.6, -0.17, -0.2), (507.1, 2.02, 2.05), (511.5, 0.18, 0.15),
    (515.5, 1.97, 2.0), (519.4, -0.02, -0.05), (523.4, 2.17, 2.2), (527.4, -0.22, -0.3), (531.3, 2.22, 2.25),
    (535.3, 0.29, 0.25), (540.9, 1.41, 1.45), (545.8, 0.74, 0.7), (549.2, 1.05, 1.05), (553.8, 1.82, 1.85),
    (557.7, 0.18, 0.15), (562.3, 1.71, 1.75), (566.3, -0.07, -0.1), (570.2, 1.92, 1.95), (574.6, -0.07, -0.1),
    (578.2, 1.92, 1.95), (581.5, 0.69, 0.65), (585.5, 1.15, 1.15), (588.5, 0.85, 0.85), (591.5, 1.2, 1.2),
    (594.4, 0.85, 0.85), (596.8, 1.26, 1.25), (599.4, 0.64, 0.6), (602.8, 1.51, 1.55), (606.3, 0.64, 0.6),
    (611.9, 1.36, 1.4), (616.3, 0.69, 0.65), (620.6, 1.41, 1.45), (625.2, 0.54, 0.5), (629.2, 1.51, 1.55),
    (632.5, 0.59, 0.55), (636.7, 1.51, 1.55), (641.1, 0.29, 0.25), (645, 1.77, 1.8), (649, 0.18, 0.1),
    (653, 2.07, 2.1), (657, -0.33, -0.4), (660, 2.07, 2.1), (661.5, 1.6, 1.6),
]

roll_blue = [
    (59, 2.0), (60.1, 2.96), (62, 0.88), (64.4, -1.6), (67.4, 3.78), (71.7, -3.26), (75.5, 6.4),
    (79.4, -2.15), (82.3, 4.75), (86.7, -1.05), (90.6, 3.78), (94.8, 0.19), (100.6, 1.16), (103.5, 0.47),
    (106.7, 2.13), (110.2, 0.61), (115, 1.85), (118.3, -0.5), (123.3, 2.82), (126.6, -2.7), (130.4, 3.23),
    (134.3, -1.88), (138.2, 4.48), (142, 0.19), (146.8, 2.68), (150.3, -0.91), (154.5, 2.68), (159.3, -1.33),
    (163.2, 4.89), (168, 0.06), (171.9, 3.37), (176.1, -1.33), (180.2, 3.65), (184.8, -2.15), (188.4, 3.92),
    (191.7, -0.22), (198.8, 2.4), (202.7, 0.47), (210.4, 3.37), (214.3, -1.33), (219.1, 4.2), (223, -1.88),
    (225.4, 2.82), (229.1, -0.64), (232, 2.27), (235.5, 1.16), (238.3, 4.2), (241.8, -1.33), (245.1, 3.09),
    (248.9, 0.06), (255.7, 2.82), (259.5, -1.88), (263.4, 3.65), (267.2, -1.46), (269.7, 2.54), (274.9, -2.15),
    (278.8, 6.69), (281.7, -1.33), (285.9, 4.48), (289.4, -1.88), (292.3, 4.48), (296.1, -0.77), (302.5, 4.75),
    (305.7, 0.06), (310.2, 1.57), (314.4, 2.27), (318.3, -0.22), (321.8, 1.85), (326.6, -1.33), (330.3, 2.82),
    (334.7, -1.88), (338.6, 4.2), (341.4, 0.33), (343.7, 1.3), (347.2, 3.09), (350.7, -1.19), (352.8, 2.13),
    (355.4, 0.06), (358.7, -1.88), (362.3, 3.92), (365.9, -0.91), (369.8, 3.23), (373.2, -0.5), (375.8, 2.54),
    (379.8, -0.36), (384.5, 2.4), (388.5, -0.91), (392.1, 2.96), (397, -0.91), (401, 2.96), (405.6, -1.33),
    (409.5, 2.4), (414.3, -2.7), (418.3, 3.65), (422.2, -2.43), (425.8, 4.75), (429.4, -1.19), (431.7, 2.68),
    (436.7, -0.64), (441.3, 2.4), (445.2, -0.08), (449.6, 1.16), (453.6, 2.54), (458.5, -2.15), (462.1, 3.78),
    (465.5, -1.33), (469.4, 1.71), (474.4, 0.88), (477.4, 2.13), (481.3, 1.16), (484.3, -0.91), (487.3, 1.71),
    (493.3, -2.43), (497.2, 5.03), (500.8, -2.02), (504.2, 3.78), (508.7, -1.6), (512.7, 4.48), (516.7, -1.88),
    (520, 4.2), (524.4, -2.43), (528.6, 5.03), (531.9, -0.91), (535.3, 1.99), (537.9, 1.16), (541.3, -0.5),
    (544.4, 2.54), (547.8, -1.88), (550.8, 3.51), (553.8, -0.64), (559.7, 2.4), (563.7, -1.6), (567.7, 3.37),
    (571, -1.88), (574.6, 3.78), (578.6, -1.05), (582.1, 3.23), (586.5, -0.91), (590.5, 2.54), (594.4, 0.33),
    (599.4, 3.23), (603.4, -0.5), (606.3, 1.16), (610.3, 1.44), (613.3, 0.19), (617.3, 0.88), (622.2, -1.6),
    (625.6, 3.51), (629.6, -0.22), (634.1, 2.68), (637.7, -1.19), (641.1, 2.4), (646.4, -2.15), (650.4, 5.58),
    (653.6, -2.7), (657, 4.75), (661, -1.19), (661.5, -1.0),
]
roll_red = [
    (59, 0.8), (64, 0.85), (70, 0.9), (75, 0.7), (80, 0.95), (86, 0.75), (92, 0.95), (98, 1.05),
    (105, 0.9), (112, 0.85), (120, 1.0), (126, 0.75), (132, 0.85), (140, 0.95), (148, 0.7), (155, 0.8),
    (162, 0.8), (170, 0.95), (178, 0.85), (186, 0.7), (192, 0.85), (200, 1.0), (207, 0.85), (214, 0.95),
    (220, 1.0), (227, 0.75), (234, 1.0), (241, 0.95), (247, 1.15), (254, 0.85), (260, 0.85), (267, 0.85),
    (274, 1.0), (282, 0.75), (290, 0.85), (296, 1.3), (300, 1.89), (305, 1.2), (310, 0.9), (316, 0.85),
    (322, 0.95), (330, 0.8), (338, 0.9), (345, 0.8), (352, 0.75), (358, 0.9), (365, 0.95), (372, 0.9),
    (380, 0.85), (388, 0.95), (395, 0.9), (402, 0.9), (410, 0.9), (418, 1.0), (426, 0.9), (434, 1.0),
    (442, 0.85), (450, 0.9), (458, 0.9), (466, 0.75), (474, 1.1), (482, 1.0), (490, 0.9), (498, 0.8),
    (506, 0.9), (514, 0.95), (522, 0.9), (530, 0.95), (538, 1.05), (546, 0.9), (554, 0.9), (562, 0.7),
    (570, 0.85), (578, 1.0), (586, 1.1), (594, 0.9), (602, 1.1), (610, 1.0), (618, 0.9), (626, 0.85),
    (634, 1.0), (642, 0.95), (650, 1.0), (656, 0.8), (661.5, 0.75),
]

pitch = [
    (59, 7.5, 7.7), (60.1, 7.85, 8.2), (61.7, 8.44, 8.8), (64.4, 5.14, 4.8), (66.3, 5.64, 5.6),
    (69.4, 8.78, 8.95), (73.6, 3.55, 2.61), (77.1, 8.69, 9.3), (80.3, 4.97, 3.6), (83.2, 7.68, 7.9),
    (87.5, 8.44, 8.5), (90, 7.17, 7.3), (95.8, 8.1, 8.2), (99.6, 6.15, 6.1), (102.5, 7.59, 7.6),
    (107.3, 7.59, 7.7), (112.1, 6.32, 6.2), (117, 8.8, 9.0), (120.8, 5.56, 5.2), (124.1, 7.93, 8.0),
    (127.6, 4.03, 3.7), (132.4, 7.76, 7.9), (135.3, 6.15, 5.9), (139.5, 7.42, 7.6), (144.9, 5.81, 5.5),
    (148.7, 8.19, 8.4), (152, 5.47, 5.3), (156.5, 7.93, 8.1), (160.9, 4.63, 4.2), (165.1, 8.69, 8.9),
    (170.5, 5.05, 4.8), (173.8, 8.69, 8.9), (178.2, 4.63, 4.4), (182.5, 8.61, 8.8), (186.7, 5.31, 5.0),
    (190.2, 6.92, 7.0), (194.4, 8.69, 8.9), (198.3, 6.07, 6.0), (201.7, 6.32, 6.3), (205.2, 8.36, 8.6),
    (208.5, 5.22, 5.0), (212.3, 8.8, 9.1), (216.2, 5.14, 4.8), (220, 8.61, 8.8), (223.5, 5.14, 4.9),
    (226.8, 7.17, 7.4), (229.7, 6.24, 6.2), (232, 8.78, 9.0), (236, 4.97, 4.7), (239.9, 8.53, 8.7),
    (242.8, 4.97, 4.7), (246, 7.68, 7.8), (249.9, 8.53, 8.7), (253.8, 5.22, 5.0), (257.6, 8.36, 8.6),
    (260.9, 4.8, 4.5), (264.4, 7.59, 7.8), (267.6, 6.07, 5.8), (271.7, 7.85, 7.9), (276.3, 3.69, 3.0),
    (279.4, 8.82, 9.69), (283.6, 4.2, 4.1), (287.5, 7.34, 7.5), (290.3, 4.46, 4.1), (293.6, 8.36, 8.6),
    (296.1, 7.17, 7.2), (298, 8.8, 9.2), (300.9, 6.07, 6.0), (304.8, 7.76, 7.9), (307.7, 7.0, 7.1),
    (312.1, 6.07, 5.9), (316.4, 7.76, 7.9), (320.6, 5.73, 5.6), (324.1, 8.1, 8.3), (327.9, 5.64, 5.5),
    (332.4, 8.36, 8.6), (336, 4.97, 4.2), (339.1, 7.76, 7.9), (342.9, 6.83, 6.9), (346.2, 5.64, 5.4),
    (349.5, 7.25, 7.3), (352.4, 6.66, 6.6), (355.4, 5.81, 5.7), (357.9, 7.85, 8.0), (360.3, 4.88, 4.7),
    (363.9, 8.8, 9.0), (367.3, 6.49, 6.3), (370.6, 7.93, 8.1), (373.8, 5.64, 5.4), (378.2, 7.93, 8.1),
    (382.5, 5.64, 5.4), (386.7, 8.36, 8.5), (390.1, 5.9, 5.8), (394, 8.27, 8.4), (399, 5.22, 5.0),
    (403.6, 8.44, 8.7), (408.3, 4.71, 4.5), (412.5, 8.69, 8.9), (415.9, 4.4, 4.12), (419.8, 7.34, 7.5),
    (423.4, 5.39, 5.2), (426.8, 8.69, 8.9), (430.2, 4.63, 4.4), (436.1, 8.1, 8.3), (440.1, 5.73, 5.6),
    (445.2, 7.93, 8.1), (448.6, 6.83, 6.8), (452.6, 4.97, 4.8), (456.2, 8.53, 8.8), (459.5, 3.95, 3.7),
    (463.5, 8.19, 8.4), (466.5, 6.66, 6.6), (471, 5.39, 5.1), (475, 8.44, 8.6), (479.8, 5.81, 5.6),
    (482.3, 7.68, 7.8), (485.7, 5.64, 5.4), (491.7, 8.53, 8.7), (495.2, 3.95, 3.6), (498.2, 8.75, 9.55),
    (501.6, 5.14, 4.9), (506.7, 8.02, 8.2), (510.1, 5.98, 5.8), (514.1, 8.82, 9.0), (518.1, 4.29, 4.0),
    (522, 8.8, 9.2), (526, 4.12, 3.8), (530, 8.78, 9.2), (533, 7.0, 7.1), (537.3, 5.56, 5.3),
    (540.9, 7.93, 8.1), (543.8, 6.58, 6.5), (548.4, 4.63, 4.1), (552.4, 8.53, 8.8), (557.7, 4.97, 4.7),
    (562.3, 8.1, 8.3), (565.1, 4.54, 4.1), (569, 8.1, 8.4), (572.6, 4.88, 4.6), (576.2, 7.51, 7.7),
    (579.6, 6.75, 6.7), (584.1, 7.42, 7.5), (586.1, 5.98, 5.7), (588.5, 8.1, 8.3), (591.5, 6.41, 6.3),
    (594.4, 7.85, 8.0), (597.4, 5.47, 5.1), (601.4, 7.85, 8.1), (607.3, 5.47, 5.2), (612.3, 8.27, 8.5),
    (617.3, 5.9, 5.7), (620.6, 8.1, 8.3), (624.2, 5.05, 4.7), (627.2, 8.27, 8.5), (632.5, 5.64, 5.4),
    (636.1, 8.02, 8.2), (639.1, 5.39, 5.0), (644.4, 8.8, 9.1), (648.4, 3.95, 3.6), (651.6, 8.53, 9.3),
    (654.4, 4.12, 3.4), (658, 8.8, 9.1), (661, 6.32, 6.2), (661.5, 6.0, 5.9),
]

yaw_blue = [
    (59, 1.3), (60.1, 1.15), (64, 0.84), (66.9, 1.15), (69.7, 0.73), (73.6, 1.89), (77.1, 0.84),
    (80.3, 2.62), (83.6, 0.42), (89, 2.83), (93.8, 0.84), (102.5, 0.84), (107.3, 1.36), (113.1, 1.0),
    (118.3, 1.57), (122.7, 0.63), (126.6, 0.21), (131, -0.21), (136.8, 2.62), (140.1, 0.73), (143.9, 0.31),
    (150.7, 1.26), (156.5, 0.84), (162.2, 1.36), (166.1, 0.63), (171.9, 1.36), (177.6, 1.15), (181.5, 0.21),
    (187.3, 1.57), (191.1, 0.63), (197.9, 1.84), (202.7, 0.94), (210.4, 0.63), (216.2, 1.89), (221, 0.42),
    (225.8, 0.73), (231.6, 1.47), (236.4, 1.57), (240.3, 0.84), (243.2, 1.84), (247, 0.63), (250.9, 1.89),
    (255.7, 0.84), (260.5, 0.84), (264.7, 0.21), (269.2, 1.36), (273, 1.36), (276.9, 1.84), (280.2, 0.31),
    (285.5, 1.47), (290.3, 2.2), (294.2, -0.56), (298, 3.4), (300.9, 3.14), (304.8, 0.84), (309.6, 0.73),
    (312.5, 1.26), (319.2, 1.26), (322.1, 0.73), (329.8, 1.05), (336.6, 1.36), (340.5, 0.21), (346.8, 1.36),
    (351, 0.73), (354, -0.21), (357.3, 0.84), (360.7, 1.78), (363.3, 0.84), (368.3, 1.36), (373.8, 1.57),
    (378.2, 0.84), (384.1, 0.94), (389.1, 1.57), (394, 0.73), (400, 0.94), (406.9, 0.94), (410.9, 0.21),
    (416.3, 1.57), (419.8, -0.21), (424.8, 1.78), (429.8, 1.05), (437.7, 1.99), (443.7, 0.73), (453.6, 1.05),
    (459.1, 1.36), (463.5, 0.0), (467.5, 1.78), (475.4, 1.05), (486.3, 1.15), (491.3, 0.63), (496.2, 1.36),
    (502.2, 1.99), (507.1, 0.84), (511.1, 1.89), (515.1, 0.84), (518.7, 1.68), (522, 0.84), (526.6, 1.89),
    (530, 0.84), (533.9, 1.99), (538.9, 1.05), (546.8, 0.42), (554.8, 1.36), (558.7, 0.73), (566.7, 0.42),
    (572.2, 1.99), (576.2, 0.52), (581.5, 1.99), (588.5, 0.73), (597.4, 1.68), (601.4, 0.73), (606.3, 0.73),
    (613.3, 1.57), (619.3, 0.73), (624.2, 1.47), (628.2, 0.63), (634.1, 1.26), (641.7, 0.21), (648, 1.99),
    (653, 0.63), (655.6, 1.57), (657.9, 0.21), (661, 1.26), (661.5, 1.3),
]
yaw_red = [
    (59, 1.0), (63, 0.8), (68, 1.0), (73, 0.75), (78, 0.95), (83, 0.9), (89, 1.57), (95, 0.95),
    (102, 0.85), (108, 1.15), (115, 0.95), (120, 1.1), (126, 0.5), (131, 0.31), (137, 1.36), (142, 0.9),
    (148, 1.05), (155, 0.95), (162, 1.15), (168, 0.85), (174, 1.1), (181, 0.5), (188, 1.1), (194, 0.75),
    (200, 1.3), (206, 1.0), (212, 0.7), (217, 1.3), (222, 0.7), (228, 0.95), (234, 1.15), (240, 0.8),
    (244, 1.3), (248, 0.85), (252, 1.4), (258, 0.9), (264, 0.55), (270, 1.1), (276, 1.25), (281, 0.6),
    (287, 1.1), (292, 1.4), (296, 0.8), (300, 2.3), (304, 1.2), (310, 0.9), (316, 1.1), (322, 0.9),
    (330, 0.95), (337, 1.2), (341, 0.55), (347, 1.1), (352, 0.8), (356, 0.3), (361, 1.3), (366, 1.0),
    (373, 1.3), (379, 0.95), (385, 1.0), (390, 1.25), (395, 0.9), (402, 1.0), (408, 0.95), (412, 0.55),
    (417, 1.3), (421, 0.4), (426, 1.4), (431, 1.0), (438, 1.55), (445, 0.85), (454, 1.0), (460, 1.2),
    (464, 0.4), (468, 1.3), (476, 1.0), (486, 1.05), (492, 0.8), (497, 1.2), (503, 1.45), (508, 0.9),
    (512, 1.3), (516, 0.9), (520, 1.2), (523, 0.95), (527, 1.3), (531, 0.9), (535, 1.5), (540, 1.2),
    (547, 0.6), (555, 1.1), (560, 0.85), (567, 0.7), (573, 1.45), (577, 0.85), (582, 1.4), (589, 0.85),
    (597, 1.2), (602, 0.85), (608, 0.9), (614, 1.2), (620, 0.9), (625, 1.15), (629, 0.85), (635, 1.05),
    (642, 0.55), (648, 1.5), (653, 0.8), (656, 1.1), (659, 0.55), (661.5, 0.9),
]

# header texts
names = ["1 Wnd1VelX m/s", "41 NcIMUTAx m/s^2", "42 NcIMUTAy m/s^2", "43 NcIMUTAz m/s^2",
         "65 PtfmSurg m", "66 PtfmSway m", "67 PtfmHeav m", "68 PtfmRoll deg",
         "69 PtfmPitc deg", "70 PtfmYaw  deg"]
descs = ["Wind speed", "Nacelle acceleration along x-axis", "Nacelle acceleration along y-axis",
         "Nacelle acceleration along z-axis", "Platform surge", "Platform sway", "Platform heave",
         "Platform roll", "Platform pitch", "Platform yaw"]
red_stats = [["49,67 /", "5,06 /", "32,74 /", "65,76"],
             ["1,57 /", "0,71 /", "-0,99 /", "4,72"],
             ["-2,98 /", "0,29 /", "-4,23 /", "-1,93"],
             ["0,12 /", "0,36 /", "-1,15 /", "1,62"],
             ["2,06 /", "0,45 /", "0,63 /", "3,39"],
             ["0,84 /", "0,14 /", "0,55 /", "1,42"],
             ["1,00 /", "0,52 /", "-0,75 /", "2,39"],
             ["0,87 /", "0,24 /", "0,17 /", "1,89"],
             ["6,77 /", "1,25 /", "2,61 /", "9,69"],
             ["1,06 /", "0,31 /", "0,25 /", "2,30"]]
blue_stats = [["49,67 /", "5,06 /", "32,74 /", "65,76"],
              ["1,57 /", "0,68 /", "-0,94 /", "4,36"],
              ["-2,99 /", "0,78 /", "-5,97 /", "-0,39"],
              ["0,10 /", "0,34 /", "-1,08 /", "1,53"],
              ["1,92 /", "0,45 /", "0,34 /", "3,35"],
              ["0,95 /", "0,29 /", "0,33 /", "2,22"],
              ["1,00 /", "0,50 /", "-0,73 /", "2,34"],
              ["0,99 /", "1,70 /", "-3,29 /", "6,73"],
              ["6,80 /", "0,98 /", "3,55 /", "8,82"],
              ["1,19 /", "0,51 /", "-0,56 /", "3,46"]]
yticks = [[40, 50, 60], [0, 2, 4], [-4, -2], [-1, 0, 1], [1, 2, 3],
          [1, 2], [0, 2], [0, 5], [5], [0]]

# ---------------- layout (pixels of the 3938 x 3322 canvas) ----------------
W, H = 3938, 3322
X0, X1 = 118, 3897
XLIM = (59.2, 661.0)
HEAD_TOP0, PERIOD, HEAD_H, LAST_BOTTOM = 38, 319.5, 73.5, 3125
ylims = [(33.8, 72.5), (-1.36, 5.34), (-6.69, 0.02), (-1.59, 1.64), (-0.34, 3.62),
         (-0.29, 2.64), (-1.5, 2.86), (-4.23, 8.89), (2.55, 10.64), (-1.65, 4.0)]
minor_steps = [2, 0.4, 0.4, 0.2, 0.2, 0.2, 0.4, 1, 1, 0.5]
# noisy panels get a heavier pen so the traces read as dense bands
line_widths = [4.0, 4.6, 4.4, 4.0, 3.8, 3.8, 3.8, 3.8, 3.8, 3.8]
# header text x positions, in pixels of a 1568-wide copy (frame runs 47..1552)
head_x = [
    [61, 229, 358, 556, 622, 710, 781, 860, 939, 1006, 1094, 1164, 1244],
    [54, 254, 583, 777, 853, 935, 999, 1082, 1149, 1221, 1298, 1367, 1448],
    [54, 254, 583, 781, 848, 930, 997, 1080, 1153, 1218, 1300, 1363, 1446],
    [54, 259, 589, 787, 858, 935, 1000, 1090, 1155, 1227, 1303, 1365, 1458],
    [54, 215, 370, 567, 639, 716, 792, 868, 933, 1006, 1083, 1159, 1235],
    [54, 227, 381, 578, 651, 728, 804, 880, 945, 1018, 1095, 1171, 1246],
    [54, 214, 372, 569, 641, 718, 787, 870, 937, 1010, 1087, 1156, 1240],
    [54, 217, 345, 542, 614, 690, 767, 843, 908, 981, 1057, 1126, 1210],
    [54, 217, 362, 559, 631, 708, 784, 860, 925, 998, 1074, 1143, 1226],
    [54, 236, 380, 577, 649, 726, 802, 878, 943, 1016, 1093, 1162, 1246],
]


def uniform(vals, t0, dt):
    v = np.asarray(vals, dtype=float)
    return t0 + dt * np.arange(len(v)), v


def cols(rows, i):
    a = np.asarray(rows, dtype=float)
    return a[:, 0], a[:, i]


series = [
    [uniform(wind, WIND_T0, WIND_DT), uniform(wind, WIND_T0, WIND_DT)],
    [uniform(accx_red, ACCX_T0, ACCX_DT_RED), uniform(accx_blue, ACCX_T0, ACCX_DT_BLUE)],
    [uniform(accy_red, ACCY_T0, ACCY_DT), uniform(accy_blue, ACCY_T0, ACCY_DT)],
    [uniform(accz_red, ACCZ_T0, ACCZ_DT), uniform(accz_blue, ACCZ_T0, ACCZ_DT)],
    [cols(surge, 2), cols(surge, 1)],
    [cols(sway_red, 1), cols(sway_blue, 1)],
    [cols(heave, 2), cols(heave, 1)],
    [cols(roll_red, 1), cols(roll_blue, 1)],
    [cols(pitch, 2), cols(pitch, 1)],
    [cols(yaw_red, 1), cols(yaw_blue, 1)],
]

fig = plt.figure(figsize=(W / 100, H / 100), dpi=100)
fig.patch.set_facecolor('white')

FS = 37
FRAME_LW = 3.6


def hx(px):
    return (px - 47) / (1552 - 47)


for k in range(10):
    top = HEAD_TOP0 + PERIOD * k
    hbot = top + HEAD_H
    pbot = LAST_BOTTOM if k == 9 else top + PERIOD

    # header strip
    hax = fig.add_axes([X0 / W, 1 - hbot / H, (X1 - X0) / W, HEAD_H / H])
    hax.set_xticks([])
    hax.set_yticks([])
    for s in hax.spines.values():
        s.set_linewidth(FRAME_LW)
    xs = [hx(v) for v in head_x[k]]
    kw = dict(transform=hax.transAxes, fontsize=FS, va='baseline', ha='left')
    yb = 0.25
    hax.text(xs[0], yb, names[k], color='black', **kw)
    hax.text(xs[1], yb, descs[k], color='black', **kw)
    hax.text(xs[2], yb, 'mean/rms/min/max', color='black', **kw)
    hax.text(xs[3], yb, 'local:', color='black', **kw)
    for x, s in zip(xs[4:8], red_stats[k]):
        hax.text(x, yb, s, color=TXT_RED, **kw)
    hax.text(xs[8], yb, 'local:', color='black', **kw)
    for x, s in zip(xs[9:13], blue_stats[k]):
        hax.text(x, yb, s, color=TXT_BLUE, **kw)

    # plot area
    ax = fig.add_axes([X0 / W, 1 - pbot / H, (X1 - X0) / W, (pbot - hbot) / H])
    ax.set_xlim(*XLIM)
    ax.set_ylim(*ylims[k])
    ax.set_axisbelow(True)
    (tr, vr), (tb, vb) = series[k]
    lw = line_widths[k]
    ax.plot(tr, vr, color=RED, lw=lw, zorder=2, solid_joinstyle='miter')
    ax.plot(tb, vb, color=BLUE, lw=lw, zorder=3, solid_joinstyle='miter')

    for s in ax.spines.values():
        s.set_linewidth(FRAME_LW)

    ax.set_xticks(np.arange(100, 651, 50))
    ax.set_yticks(yticks[k])
    ax.set_yticklabels([str(v) for v in yticks[k]])
    ax.grid(True, axis='x', color=GRID, lw=2.2, linestyle=(0, (5, 4)))
    ax.grid(True, axis='y', color=GRID, lw=2.2, linestyle=(0, (3.5, 3.5)))

    # black bar on the left showing the data range, with minor ticks along it
    dmin = min(vr.min(), vb.min())
    dmax = max(vr.max(), vb.max())
    off = mtransforms.offset_copy(ax.get_yaxis_transform(), fig=fig, x=-2.5, y=0, units='dots')
    ax.plot([0, 0], [dmin, dmax], transform=off, color='black', lw=5.5,
            solid_capstyle='butt', clip_on=False, zorder=6)
    step = minor_steps[k]
    ax.yaxis.set_minor_locator(FixedLocator(np.arange(np.ceil(dmin / step) * step, dmax, step)))
    ax.tick_params(axis='y', which='major', direction='out', length=14, width=2.2,
                   color=GRID, labelcolor='black', labelsize=36, pad=10)
    ax.tick_params(axis='y', which='minor', direction='out', length=7, width=2.2, color=GRID)

    if k < 9:
        ax.tick_params(axis='x', which='both', length=0, labelbottom=False)
    else:
        ax.spines['bottom'].set_linewidth(6)
        ax.xaxis.set_minor_locator(FixedLocator(np.arange(62.5, 661, 12.5)))
        ax.tick_params(axis='x', which='major', direction='out', length=19, width=2.2,
                       color=GRID, labelcolor='black', labelsize=FS, pad=16)
        ax.tick_params(axis='x', which='minor', direction='out', length=12, width=2.2, color=GRID)

fig.text((X0 + X1) / 2 / W, 1 - 3265 / H, 'Time [s]', ha='center', va='center', fontsize=FS)

fig.savefig('out.png', dpi=100, facecolor='white')
